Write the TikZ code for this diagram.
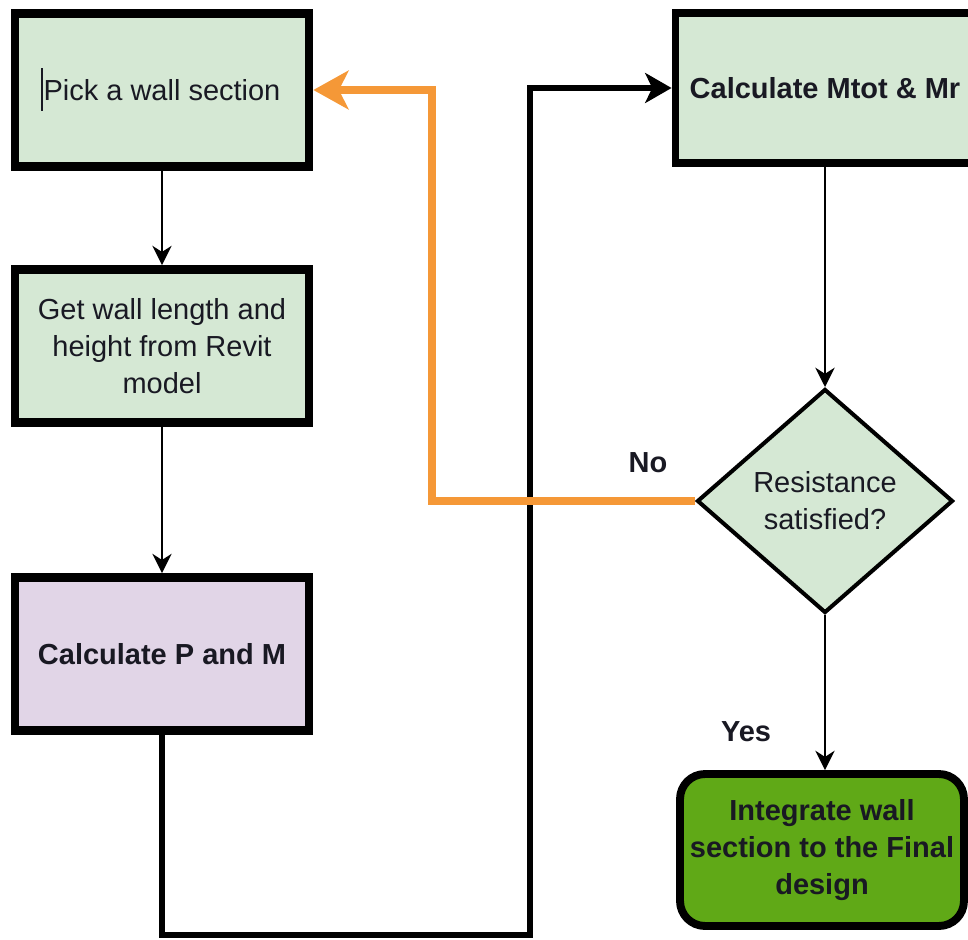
\documentclass[tikz,border=0pt]{standalone}
\usepackage{fontspec}
\setmainfont{Liberation Sans}
\usetikzlibrary{arrows.meta,shapes.geometric}

\definecolor{boxgreen}{HTML}{D5E8D4}
\definecolor{boxlilac}{HTML}{E1D5E7}
\definecolor{donegreen}{HTML}{60A917}
\definecolor{loopback}{RGB}{245,152,55}
\definecolor{ink}{RGB}{25,25,35}

\begin{document}
\begin{tikzpicture}[x=0.02cm,y=-0.02cm,
  txt/.style={font=\fontsize{16.5}{21}\selectfont, text=ink, align=center},
  stepbox/.style={txt, rectangle, draw=black, line width=5pt, fill=boxgreen,
                  minimum width=5.88cm, minimum height=3.06cm, inner sep=0pt},
  decision/.style={txt, diamond, draw=black, line width=2.3pt, fill=boxgreen,
                  minimum width=5.12cm, minimum height=4.48cm, inner sep=0pt},
  finalbox/.style={txt, rectangle, rounded corners=0.5cm, draw=black, line width=4.5pt,
                  fill=donegreen, minimum width=5.68cm, minimum height=3.04cm, inner sep=0pt},
  flowarrow/.style={draw=black, line width=1.2pt,
                  -{Stealth[length=11pt,width=11pt,inset=3.5pt]}},
  looparrow/.style={draw=black, line width=3.7pt,
                  -{Stealth[length=15pt,width=17pt,inset=4pt]}},
  backarrow/.style={draw=loopback, line width=4.5pt,
                  -{Stealth[length=20pt,width=22pt,inset=5.5pt]}},
  edgelabel/.style={font=\fontsize{16.5}{21}\selectfont\bfseries, text=ink}
]
\useasboundingbox (0,0) rectangle (968,940);
\clip (0,0) rectangle (968,940);

% left column
\node[stepbox] (pick) at (162,90) {Pick a wall section};
\node[stepbox] (wall) at (162,346) {Get wall length and\\height from Revit\\model};
\node[stepbox, fill=boxlilac, font=\fontsize{16.5}{21}\selectfont\bfseries] (pm) at (162,654) {Calculate P and M};

% right column (the first box runs past the right margin)
\node[stepbox, line width=4.5pt, minimum width=6.1cm, minimum height=3.0cm,
      font=\fontsize{16.5}{21}\selectfont\bfseries] (mtot) at (828,88) {\hspace*{-0.12cm}Calculate Mtot \& Mr};
\node[decision] (check) at (825,501) {Resistance\\satisfied?};
\node[finalbox, font=\fontsize{16.5}{21}\selectfont\bfseries] (final) at (822,850) {Integrate wall\\section to the Final\\design};

% text caret in the first box
\draw[line width=1.2pt, ink] (42,68) -- (42,111);

% edge labels
\node[edgelabel] (no) at (648,463) {No};
\node[edgelabel] (yes) at (746,732) {Yes};

% turning points of the long connectors
\coordinate (lowturn) at (530,935);
\coordinate (backturn) at (432,501);

% straight flow
\draw[flowarrow] (pick.south) -- (wall.north);
\draw[flowarrow] (wall.south) -- (pm.north);
\draw[flowarrow] (check.north |- mtot.south) -- (check.north);
\draw[flowarrow] (check.south) -- (check.south |- final.north);

% from P and M over to the right column
\draw[looparrow] (pm.south) |- (lowturn) |- (mtot.west);

% failed check goes back to the start
\draw[backarrow] (check.west) -- (backturn) |- (pick.east);
\end{tikzpicture}
\end{document}
